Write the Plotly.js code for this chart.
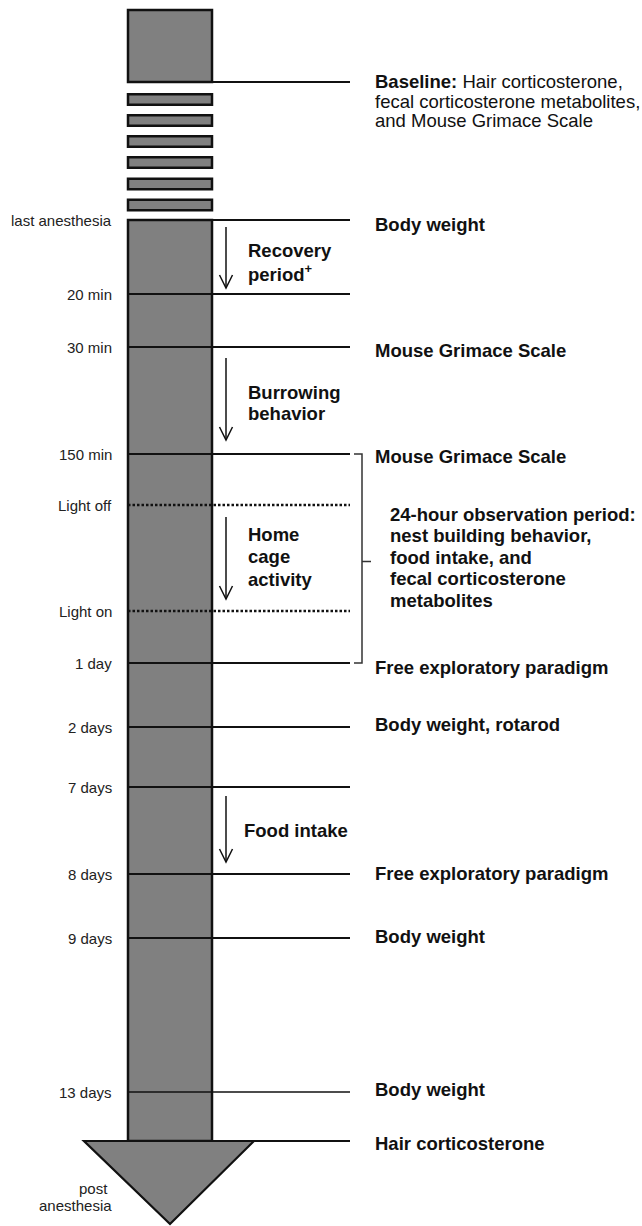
<!DOCTYPE html>
<html>
<head>
<meta charset="utf-8">
<script src="https://cdn.plot.ly/plotly-3.0.1.min.js"></script>
<style>html,body{margin:0;padding:0;background:#fff;}#chart{width:642px;height:1226px;}</style>
</head>
<body>
<div id="chart"></div>
<script>
// ---- Timeline data (vertical positions, timeline units = px) ----
const timeLabels = ['last anesthesia','20 min','30 min','150 min','Light off','Light on','1 day','2 days','7 days','8 days','9 days','13 days'];
const timePos    = [220, 294, 347, 454, 505, 611, 663, 727, 787, 874, 938, 1092];
const timeDash   = ['solid','solid','solid','solid','dot','dot','solid','solid','solid','solid','solid','solid'];

// pre-anesthesia block and repeated anesthesia sessions
const baselinePos = 82;
const baselineTop = 10;
const sessionCenters = [99.5, 120.5, 141.5, 162.5, 184, 205];
const endPos = 1141;      // post anesthesia (hair corticosterone)
const tipPos = 1224;

// measurements shown on the right
const measureText = [
  '<b>Baseline:</b> Hair corticosterone,',
  'fecal corticosterone metabolites,',
  'and Mouse Grimace Scale',
  '<b>Body weight</b>',
  '<b>Mouse Grimace Scale</b>',
  '<b>Mouse Grimace Scale</b>',
  '<b>Free exploratory paradigm</b>',
  '<b>Body weight, rotarod</b>',
  '<b>Free exploratory paradigm</b>',
  '<b>Body weight</b>',
  '<b>Body weight</b>',
  '<b>Hair corticosterone</b>'
];
const measurePos = [81, 101, 120.5, 224, 350.5, 456, 667, 724, 873, 936, 1089, 1143];

// 24-hour observation block
const obsText = ['24-hour observation period:','nest building behavior,','food intake, and','fecal corticosterone','metabolites'];
const obsPos  = [514, 535.5, 557, 578.5, 600];
const bracketRange = [454, 663];

// period arrows
const periodStart = [227, 358, 517, 796];
const periodEnd   = [288, 440, 599, 862];
const periodLines = [['Recovery','period<sup>+</sup>'], ['Burrowing','behavior'], ['Home','cage','activity'], ['Food intake']];
const periodLinePos = [[250, 273], [392, 413], [534, 556.5, 579], [830]];

const postLabel = ['post','anesthesia'];
const postLabelPos = [1188, 1205];

// ---- geometry / style ----
const barL = 128, barR = 212, lineEnd = 350, triL = 84, triR = 254;
const arrowX = 226, textX = 374, obsX = 389, periodTextX = [247, 247, 247, 243];
const gray = '#808080', ink = '#111111';
const fontFam = 'Arial, "Liberation Sans", Helvetica, sans-serif';

const shapes = [];
const annotations = [];

// top baseline block
shapes.push({type:'rect', xref:'x', yref:'y', x0:barL, x1:barR, y0:baselineTop, y1:baselinePos,
  fillcolor:gray, line:{color:ink, width:2.5}, layer:'above'});
shapes.push({type:'line', xref:'x', yref:'y', x0:barR, x1:lineEnd, y0:baselinePos, y1:baselinePos, line:{color:ink, width:2.2}});

// anesthesia sessions
sessionCenters.forEach(c => {
  shapes.push({type:'rect', xref:'x', yref:'y', x0:barL, x1:barR, y0:c-5.2, y1:c+5.2,
    fillcolor:gray, line:{color:ink, width:2.5}});
});

// main bar
shapes.push({type:'rect', xref:'x', yref:'y', x0:barL, x1:barR, y0:timePos[0], y1:endPos,
  fillcolor:gray, line:{color:ink, width:2.5}});

// arrow head triangle
shapes.push({type:'path', xref:'x', yref:'y',
  path:`M${triL},${endPos} L${triR},${endPos} L${(barL+barR)/2},${tipPos} Z`,
  fillcolor:gray, line:{color:ink, width:2.2}});
shapes.push({type:'line', xref:'x', yref:'y', x0:triR, x1:lineEnd, y0:endPos, y1:endPos, line:{color:ink, width:2.2}});

// event lines
timePos.forEach((y, i) => {
  const dotted = timeDash[i] === 'dot';
  shapes.push({type:'line', xref:'x', yref:'y', x0:barL, x1:lineEnd, y0:y, y1:y,
    line:{color:ink, width: dotted ? 2.5 : (i === timePos.length-1 ? 1.6 : 2.2), dash: dotted ? '2.5px,2px' : 'solid'}});
  annotations.push({x:113, y:y, xref:'x', yref:'y', text:timeLabels[i], showarrow:false,
    xanchor:'right', yanchor:'middle', borderpad:0, font:{family:fontFam, size:15, color:'#222'}});
});

// right side measurement texts
measureText.forEach((t, i) => {
  annotations.push({x:textX, y:measurePos[i], xref:'x', yref:'y', text:t, showarrow:false,
    xanchor:'left', yanchor:'middle', borderpad:0, font:{family:fontFam, size:18.5, color:ink}});
});

// observation block
obsText.forEach((t, i) => {
  annotations.push({x:obsX, y:obsPos[i], xref:'x', yref:'y', text:'<b>'+t+'</b>', showarrow:false,
    xanchor:'left', yanchor:'middle', borderpad:0, font:{family:fontFam, size:18.5, color:ink}});
});

// bracket
const bx = 362, mid = (bracketRange[0]+bracketRange[1])/2 + 3;
shapes.push({type:'path', xref:'x', yref:'y',
  path:`M${bx-8},${bracketRange[0]} L${bx},${bracketRange[0]} L${bx},${bracketRange[1]} L${bx-8},${bracketRange[1]} M${bx},${mid} L${bx+9},${mid}`,
  line:{color:'#333', width:1.5}});

// period arrows
periodStart.forEach((y0, i) => {
  const y1 = periodEnd[i];
  shapes.push({type:'line', xref:'x', yref:'y', x0:arrowX, x1:arrowX, y0:y0, y1:y1, line:{color:ink, width:1.5}});
  shapes.push({type:'path', xref:'x', yref:'y',
    path:`M${arrowX-6.5},${y1-13} L${arrowX},${y1} L${arrowX+6.5},${y1-13}`, line:{color:ink, width:1.5}});
  periodLines[i].forEach((t, j) => {
    annotations.push({x:periodTextX[i], y:periodLinePos[i][j], xref:'x', yref:'y', text:'<b>'+t+'</b>', showarrow:false,
      xanchor:'left', yanchor:'middle', borderpad:0, font:{family:fontFam, size:18.5, color:ink}});
  });
});

// post anesthesia label
postLabel.forEach((t, i) => {
  annotations.push({x: i === 0 ? 109 : 113, y:postLabelPos[i], xref:'x', yref:'y', text:t, showarrow:false,
    xanchor:'right', yanchor:'middle', borderpad:0, font:{family:fontFam, size:15, color:'#222'}});
});

const layout = {
  width:642, height:1226,
  margin:{l:0, r:0, t:0, b:0},
  paper_bgcolor:'#fff', plot_bgcolor:'#fff',
  showlegend:false,
  xaxis:{range:[0,642], visible:false, fixedrange:true},
  yaxis:{range:[1226,0], visible:false, fixedrange:true},
  shapes:shapes,
  annotations:annotations
};

Plotly.newPlot('chart', [{x:[], y:[], type:'scatter', mode:'markers', hoverinfo:'skip'}], layout, {staticPlot:true, displayModeBar:false});
</script>
</body>
</html>
